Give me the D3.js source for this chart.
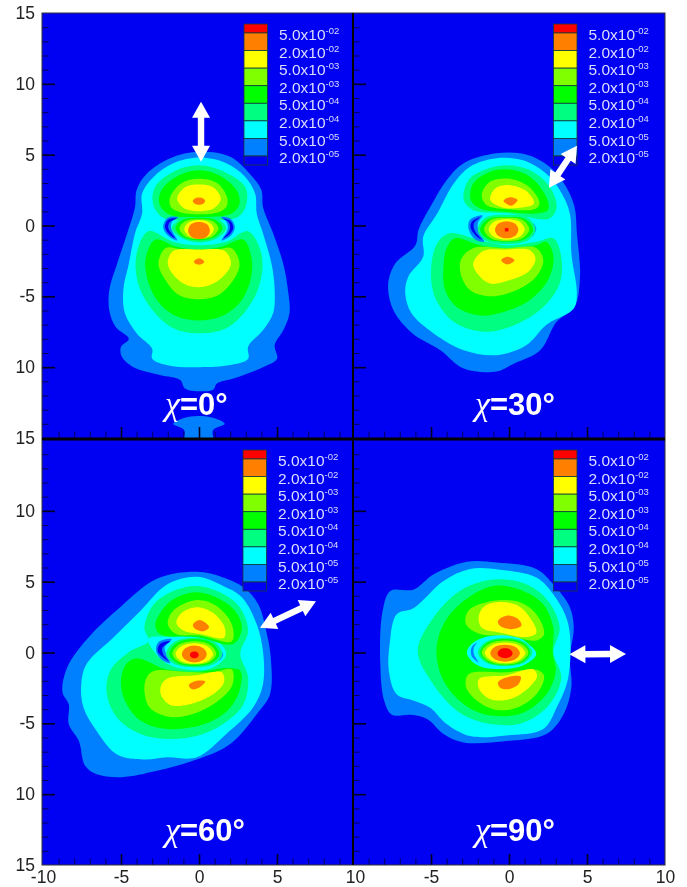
<!DOCTYPE html>
<html>
<head>
<meta charset="utf-8">
<script src="https://cdn.jsdelivr.net/npm/d3@7"></script>
<style>
    html, body { margin: 0; padding: 0; background: #fff; }
    svg { display: block; }
</style>
</head>
<body>
<div id="chart"></div>
<script>
// contour levels, low to high; level 0 is the background blue
const levelColors = ['#0202f2', '#0080ff', '#00ffff', '#00ff80', '#00ff00', '#80ff00', '#ffff00', '#ff8000', '#ff0000'];
const legendMantissas = ['5.0x10', '2.0x10', '5.0x10', '2.0x10', '5.0x10', '2.0x10', '5.0x10', '2.0x10'];
const legendExponents = ['-02', '-02', '-03', '-03', '-04', '-04', '-05', '-05'];

const yTickValues = [15, 10, 5, 0, -5, -10, -15];
const yTickLabels = ['15', '10', '5', '0', '-5', '10', '15'];
const xTickValues = [-10, -5, 0, 5, 10];
const xTickLabels = ['-10', '-5', '0', '5', '10'];
const minorTicks = d3.range(-14, 15);
const minorTicksX = d3.range(-9, 10);

const chiAngles = ['0', '30', '60', '90'];

// [start, tip] of the double arrow, in plot units
const arrow0 = [[0.13, 4.5], [0.13, 8.74]];
const arrow30 = [[2.56, 2.67], [4.36, 5.63]];
const arrow60 = [[3.91, 1.75], [7.5, 3.61]];
const arrow90 = [[3.87, -0.13], [7.5, -0.1]];

// each entry: [level, outline]; painted in this order
const chi0 = [
    [1, [[0.05,5.2],[2,4.85],[3.25,3.65],[4,2.5],[4.1,1.3],[4.75,-0.55],[5.4,-2.7],[5.7,-4.55],[5.8,-6.2],[5.4,-7.4],[4.85,-8.45],[5,-9.4],[4.1,-10],[2.2,-10.8],[1.15,-11.15],[0.9,-11.6],[0.05,-11.7],[-0.9,-11.5],[-1.2,-10.9],[-2.5,-10.55],[-4.2,-10],[-4.95,-9.25],[-5,-8.55],[-4.5,-8],[-5.35,-7.15],[-5.75,-6],[-5.75,-4.55],[-5.25,-2.7],[-4.6,-0.55],[-4.1,1.3],[-4,2.5],[-3.35,3.65],[-1.85,4.75]]],
    [1, [[-0.05,-13.45],[1,-13.6],[1.65,-14],[0.9,-14.45],[0.9,-15.4],[-0.95,-15.4],[-0.95,-14.45],[-1.65,-14],[-1,-13.6]]],
    [2, [[0.05,4.8],[1.75,4.4],[2.95,3.45],[3.6,2.25],[3.7,0.85],[4.1,-0.55],[4.65,-2.7],[4.85,-4.55],[4.75,-6.2],[4.1,-7.4],[3.15,-8.55],[3.15,-9.4],[2,-9.85],[0.05,-10],[-1.85,-9.9],[-3,-9.4],[-3,-8.7],[-4,-7.6],[-4.75,-6.2],[-4.85,-4.55],[-4.5,-2.7],[-4.1,-0.55],[-3.65,0.85],[-3.65,2.25],[-2.9,3.45],[-1.65,4.4]]],
    [3, [[0,4.25],[1.6,3.8],[2.95,2.75],[3.05,1.55],[2.5,0.6],[0.05,0.4],[-2.3,0.55],[-2.95,1.55],[-2.8,2.75],[-1.55,3.85]]],
    [3, [[-3.25,-0.4],[-1.65,-1.15],[0,-1.4],[1.75,-1.15],[3.15,-0.4],[4,-2],[3.9,-4.1],[3.05,-5.95],[1.75,-7.25],[0.05,-7.6],[-1.65,-7.25],[-3,-5.95],[-3.9,-4.1],[-4,-2]]],
    [1, [[-1.3,0.6],[-2,0.55],[-2.3,-0.08],[-2,-0.7],[-1.4,-1.05],[-1.7,-0.43],[-1.8,-0.08],[-1.7,0.3]]],
    [0, [[-1.43,0.5],[-1.97,0.43],[-2.18,-0.08],[-1.97,-0.55],[-1.54,-0.9],[-1.85,-0.43],[-1.98,-0.08],[-1.85,0.27]]],
    [1, [[1.4,0.6],[2,0.5],[2.3,-0.13],[2.05,-0.7],[1.45,-1.05],[1.75,-0.5],[1.85,-0.13],[1.75,0.27]]],
    [0, [[1.52,0.5],[1.99,0.34],[2.2,-0.13],[2.03,-0.55],[1.56,-0.9],[1.88,-0.5],[2,-0.13],[1.88,0.27]]],
    [3, [[0,0.65],[1.15,0.5],[1.75,-0.2],[1.15,-0.9],[0,-1.2],[-1.1,-0.9],[-1.75,-0.2],[-1.1,0.5]]],
    [4, [[0,0.55],[1.05,0.4],[1.5,-0.2],[1.05,-0.8],[0,-1.05],[-1.05,-0.8],[-1.5,-0.2],[-1.05,0.4]]],
    [5, [[0,0.45],[0.9,0.3],[1.25,-0.22],[0.9,-0.75],[0,-0.95],[-0.9,-0.75],[-1.25,-0.22],[-0.9,0.3]]],
    [6, [[0,0.38],[0.68,0.2],[0.95,-0.25],[0.68,-0.72],[0,-0.9],[-0.68,-0.72],[-0.95,-0.25],[-0.68,0.2]]],
    [7, [[0,0.25],[0.5,0.1],[0.7,-0.35],[0.5,-0.8],[0,-0.95],[-0.5,-0.8],[-0.7,-0.35],[-0.5,0.1]]],
    [4, [[0,3.9],[1.45,3.45],[2.4,2.5],[2.6,1.55],[2.1,0.85],[0.05,0.6],[-1.95,0.8],[-2.55,1.55],[-2.4,2.5],[-1.45,3.45]]],
    [5, [[0,3.3],[1.15,3],[1.8,2],[1.75,1.3],[1.15,0.9],[0.05,0.8],[-1.1,0.9],[-1.8,1.3],[-1.85,2],[-1.1,3]]],
    [6, [[0,2.9],[0.9,2.7],[1.4,1.9],[1,1.25],[0,1],[-1,1.25],[-1.4,1.9],[-0.9,2.7]]],
    [7, [[-0.4,1.75],[-0.2,1.95],[0.2,1.95],[0.4,1.75],[0.2,1.5],[-0.2,1.5]]],
    [4, [[-2.8,-1],[-1.45,-1.5],[0,-1.7],[1.45,-1.5],[2.85,-1],[3.35,-2.2],[3.35,-3.6],[2.75,-5.25],[1.55,-6.35],[0,-6.7],[-1.55,-6.35],[-2.7,-5.25],[-3.35,-3.6],[-3.4,-2.2]]],
    [5, [[-2.15,-1.6],[-1.1,-1.7],[0,-1.75],[1.15,-1.7],[2.1,-1.6],[2.6,-2.7],[2.2,-3.85],[1.25,-4.9],[0,-5.2],[-1.3,-4.9],[-2.15,-3.85],[-2.6,-2.7]]],
    [6, [[-1.65,-1.8],[0,-1.7],[1.65,-1.8],[2.05,-2.7],[1.55,-3.6],[0.7,-4.2],[0,-4.35],[-0.8,-4.2],[-1.55,-3.6],[-2,-2.7]]],
    [7, [[-0.33,-2.55],[-0.15,-2.36],[0.15,-2.36],[0.33,-2.55],[0.15,-2.74],[-0.15,-2.74]]]
];

const chi30 = [
    [1, [[-0.8,5.1],[1.15,5],[2.6,4.15],[3.65,2.75],[4.2,1.3],[4.35,-0.55],[4.55,-3.6],[4.2,-5.75],[3.05,-6.8],[2,-8.8],[0.3,-9.75],[-0.8,-10.3],[-2.9,-10.1],[-4.4,-8.8],[-6.2,-7.6],[-7.4,-6],[-7.75,-4.2],[-7.3,-2.7],[-6,-1.4],[-5.8,-0.3],[-5.05,1.3],[-4,3.2],[-2.9,4.4]]],
    [2, [[-0.8,4.75],[0.9,4.6],[2.4,3.65],[3.25,2.5],[3.9,0.85],[4,-2],[4.35,-4.8],[4.15,-5.85],[2.4,-7],[1.1,-8.45],[-0.8,-9.15],[-2.9,-8.8],[-4.85,-7.6],[-6.25,-6.2],[-6.65,-4.8],[-6.45,-3.6],[-5.5,-2.2],[-5.5,-0.8],[-4.6,0.85],[-3.55,2.95],[-2.5,4.15]]],
    [3, [[-0.15,4.25],[1.35,3.9],[2.6,2.75],[3.05,1.3],[2.6,0.5],[0.05,0.85],[-2.3,1.1],[-2.9,1.8],[-2.6,3.2],[-1.65,3.9]]],
    [3, [[-3.8,-0.55],[-1.85,-1.05],[-0.15,-1.4],[1.75,-1.15],[2.85,-0.9],[3.35,-2.2],[3.25,-4.1],[2.2,-5.75],[0.3,-7.05],[-1.65,-7.5],[-3.55,-6.8],[-4.75,-5.05],[-5,-3.15],[-4.6,-1.25]]],
    [1, [[-1.7,0.7],[-2.5,0.4],[-2.6,-0.2],[-2.2,-0.95],[-1.6,-1.15],[-1.95,-0.35],[-2,0.15]]],
    [0, [[-1.85,0.6],[-2.4,0.25],[-2.45,-0.2],[-2.05,-0.8],[-1.75,-1],[-2.2,-0.35],[-2.25,0.15]]],
    [1, [[1.45,0.25],[1.75,-0.2],[1.5,-0.8],[1.6,-0.2]]],
    [3, [[-0.15,0.75],[1.2,0.55],[1.7,-0.28],[1.2,-1.05],[-0.15,-1.3],[-1.5,-1.05],[-2,-0.28],[-1.5,0.55]]],
    [4, [[-0.15,0.6],[1.05,0.45],[1.55,-0.28],[1.05,-0.95],[-0.15,-1.15],[-1.35,-0.95],[-1.85,-0.28],[-1.35,0.45]]],
    [5, [[-0.15,0.55],[0.85,0.4],[1.3,-0.28],[0.85,-0.9],[-0.15,-1.1],[-1.15,-0.9],[-1.6,-0.28],[-1.15,0.4]]],
    [6, [[-0.15,0.45],[0.65,0.28],[1,-0.28],[0.65,-0.82],[-0.15,-1],[-0.95,-0.82],[-1.3,-0.28],[-0.95,0.28]]],
    [7, [[-0.15,0.3],[0.4,0.12],[0.6,-0.3],[0.4,-0.72],[-0.15,-0.9],[-0.7,-0.72],[-0.9,-0.3],[-0.7,0.12]]],
    [8, [[-0.25,-0.2],[-0.05,-0.2],[-0.05,-0.4],[-0.25,-0.4]]],
    [4, [[0.05,3.95],[1.35,3.45],[2.4,2],[2.5,1.1],[1.75,0.85],[-0.15,0.95],[-1.85,1.2],[-2.45,1.8],[-2.3,2.95],[-1.2,3.8]]],
    [5, [[0.05,3.3],[1.25,2.75],[1.95,1.65],[1.75,1.2],[-0.15,1.15],[-1.45,1.45],[-1.75,2.15],[-1.2,3.1]]],
    [6, [[0.05,2.85],[1.15,2.4],[1.6,1.55],[0.7,1.25],[-0.35,1.25],[-1.2,1.8],[-0.9,2.6]]],
    [7, [[-0.35,1.75],[0.05,2],[0.55,1.8],[0.15,1.4]]],
    [4, [[-3.45,-0.9],[-1.85,-1.4],[-0.15,-1.6],[1.75,-1.4],[2.4,-1.15],[2.85,-2.2],[2.5,-3.85],[1.35,-5.25],[-0.35,-6.1],[-1.85,-6.35],[-3.35,-5.75],[-4.1,-4.55],[-4.2,-2.9],[-4,-1.6]]],
    [5, [[-2.3,-1.6],[-0.15,-1.6],[1.75,-1.6],[2.2,-2.45],[1.75,-3.6],[0.5,-4.55],[-1.2,-5],[-2.5,-4.55],[-3.1,-3.4],[-3.05,-2.35]]],
    [6, [[-1.65,-1.8],[-0.15,-1.7],[1.35,-1.75],[1.7,-2.35],[1.25,-3.25],[0.05,-3.85],[-1.2,-4.1],[-1.95,-3.5],[-2.3,-2.7]]],
    [7, [[-0.5,-2.45],[-0.1,-2.2],[0.35,-2.45],[-0.1,-2.75]]]
];

const chi60 = [
    [1, [[-0.15,5.7],[1.55,5.3],[2.85,4.6],[3.8,3.4],[4.35,1.3],[4.6,-0.35],[4.55,-2.95],[3.7,-4.35],[2,-6.45],[-0.15,-7.55],[-2.7,-8.35],[-4.95,-8.8],[-6.55,-8.6],[-7.3,-8],[-7.7,-6.25],[-8.35,-5.05],[-8.35,-3.65],[-8.75,-2.8],[-8.45,-1.05],[-7.1,1.05],[-5.05,3.2],[-2.7,5.2]]],
    [2, [[-0.15,5.35],[1.55,4.7],[2.75,3.9],[3.7,2],[4.1,0.1],[4.1,-2.25],[3.45,-3.9],[1.75,-5.75],[-0.15,-7.4],[-2.05,-7.4],[-3.55,-7.55],[-5.25,-7.2],[-6.55,-5.55],[-7.4,-3.9],[-7.55,-2.25],[-7.2,-0.8],[-5.5,1.05],[-3.75,2.95],[-2.05,4.8]]],
    [3, [[-0.15,4.7],[1.35,4.25],[2.6,3.2],[3.15,1.55],[2.65,-0.1],[3.15,-1.75],[2.85,-3.65],[1.55,-5.05],[-0.15,-5.9],[-2.05,-6.1],[-3.75,-5.75],[-5.25,-4.6],[-5.9,-2.95],[-5.7,-1.3],[-4.4,0.1],[-3.25,0.8],[-3.5,1.75],[-2.9,3.4],[-1.65,4.35]]],
    [2, [[-3.25,0.95],[-1.65,1.1],[0.9,1],[1.75,-0.1],[0.9,-1.05],[-0.8,-1.2],[-2.3,-0.6]]],
    [1, [[-1.75,0.95],[-2.6,0.75],[-2.75,0.1],[-2.4,-0.5],[-1.85,-0.75],[-2.1,-0.1],[-2.2,0.35]]],
    [0, [[-1.85,0.8],[-2.5,0.6],[-2.65,0.1],[-2.3,-0.35],[-1.95,-0.6],[-2.3,-0.1],[-2.35,0.35]]],
    [1, [[1.25,0.25],[1.55,-0.1],[1.3,-0.6],[1.4,-0.1]]],
    [3, [[-0.3,1.05],[1,0.75],[1.5,-0.1],[1,-0.8],[-0.3,-1.05],[-1.6,-0.8],[-2.1,-0.1],[-1.6,0.75]]],
    [4, [[-0.3,0.95],[0.85,0.65],[1.3,-0.1],[0.85,-0.7],[-0.3,-0.95],[-1.45,-0.7],[-1.9,-0.1],[-1.45,0.65]]],
    [5, [[-0.3,0.8],[0.7,0.55],[1.1,-0.1],[0.7,-0.65],[-0.3,-0.85],[-1.3,-0.65],[-1.7,-0.1],[-1.3,0.55]]],
    [6, [[-0.3,0.65],[0.55,0.42],[0.9,-0.1],[0.55,-0.6],[-0.3,-0.8],[-1.15,-0.6],[-1.5,-0.1],[-1.15,0.42]]],
    [7, [[-0.3,0.5],[0.28,0.3],[0.5,-0.12],[0.28,-0.52],[-0.3,-0.7],[-0.88,-0.52],[-1.1,-0.12],[-0.88,0.3]]],
    [8, [[-0.3,0.07],[-0.1,0],[-0.02,-0.17],[-0.1,-0.33],[-0.3,-0.4],[-0.5,-0.33],[-0.58,-0.17],[-0.5,0]]],
    [4, [[-0.15,4.25],[1.1,3.9],[2.3,2.95],[2.75,1.75],[2.2,0.6],[0.05,1.05],[-2.5,1.3],[-2.8,2],[-2.05,3.4],[-1.2,4]]],
    [5, [[-0.15,3.7],[1.1,3.3],[2.1,2],[2.1,0.8],[0.05,1.2],[-1.45,1.3],[-2,2],[-1.65,2.95]]],
    [6, [[-0.15,3.2],[0.9,2.8],[1.65,1.75],[1.6,1.05],[0.05,1.3],[-1,1.55],[-1.45,2.1],[-1.1,2.8]]],
    [7, [[-0.4,1.95],[0.05,2.3],[0.65,1.8],[0.3,1.5],[-0.15,1.6]]],
    [4, [[-4,-0.4],[-2.05,-1.2],[0.05,-1.35],[1.75,-1.1],[2.65,-1.3],[2.65,-2.45],[2,-3.9],[0.5,-5],[-2.05,-5.4],[-3.75,-4.8],[-4.75,-3.4],[-5,-2],[-4.65,-0.8]]],
    [5, [[-2.9,-1.3],[-1,-1.35],[0.9,-1.4],[2.1,-1.2],[2.15,-2.25],[1.35,-3.3],[-0.15,-4.25],[-1.85,-4.55],[-3.15,-3.9],[-3.5,-2.7],[-3.35,-1.75]]],
    [6, [[-1.95,-1.8],[-0.15,-1.6],[1.45,-1.4],[1.6,-2.1],[0.9,-2.95],[-0.6,-3.65],[-1.85,-3.7],[-2.45,-2.95],[-2.4,-2.25]]],
    [7, [[-0.65,-2.3],[-0.15,-2],[0.4,-2.05],[0.05,-2.45],[-0.45,-2.6]]]
];

const chi90 = [
    [1, [[-2.7,6.4],[-0.8,6.35],[1.75,5.9],[2.85,4.8],[3.9,3.2],[4.15,1.75],[3.9,-0.35],[4,-2.45],[3.5,-4.35],[2.4,-5.75],[-0.15,-6.25],[-2.9,-6.35],[-4.2,-5.75],[-5.25,-4.7],[-6.3,-4.4],[-7.5,-4.4],[-8,-3.4],[-8.25,-0.8],[-8.1,2.95],[-7.6,4.35],[-6.1,4.45],[-4.85,5.5]]],
    [2, [[-2.5,5.9],[-0.6,5.85],[1.75,5.3],[2.85,4.1],[3.8,2],[3.8,-1.75],[3.05,-3.9],[2.2,-5.4],[-0.15,-5.85],[-2.5,-5.9],[-4,-5.05],[-5.05,-3.9],[-6.1,-3.4],[-7.2,-2.95],[-7.7,-1.3],[-7.65,0.6],[-7.2,2.7],[-6.1,3.15],[-4.2,5.05]]],
    [3, [[-1,5.15],[1.15,4.8],[2.5,3.65],[3.25,1.75],[2.85,0],[3.35,-1.75],[2.6,-3.65],[0.9,-4.95],[-1.2,-5.05],[-3.15,-4.25],[-4.85,-2.25],[-5.85,0.1],[-4.85,2.45],[-3.15,4.35]]],
    [4, [[-1,4.7],[0.9,4.35],[2.2,3.4],[2.85,1.75],[2.85,1.05],[2.8,0],[3,-1.3],[2.4,-2.95],[0.9,-4.25],[-1.2,-4.45],[-2.9,-3.65],[-4.2,-2],[-4.65,0.1],[-4.2,2],[-2.9,3.65]]],
    [2, [[-1.65,1.05],[0.3,1.2],[1.25,0.6],[1.75,-0.1],[1.25,-0.7],[0.3,-1.1],[-1.65,-1.05],[-2.4,-0.6],[-2.7,0],[-2.4,0.6]]],
    [1, [[-2.05,0.7],[-2.4,0.35],[-2.4,-0.25],[-1.95,-0.7],[-2.25,-0.1],[-2.25,0.35]]],
    [3, [[-0.25,1.05],[1,0.75],[1.5,0],[1,-0.7],[-0.25,-0.95],[-1.5,-0.7],[-2,0],[-1.5,0.75]]],
    [4, [[-0.25,0.95],[0.9,0.68],[1.35,0],[0.9,-0.65],[-0.25,-0.9],[-1.4,-0.65],[-1.85,0],[-1.4,0.68]]],
    [5, [[-0.25,0.85],[0.8,0.6],[1.25,0],[0.8,-0.6],[-0.25,-0.85],[-1.3,-0.6],[-1.75,0],[-1.3,0.6]]],
    [6, [[-0.25,0.7],[0.65,0.5],[1.05,-0.02],[0.65,-0.55],[-0.25,-0.75],[-1.15,-0.55],[-1.55,-0.02],[-1.15,0.5]]],
    [7, [[-0.25,0.55],[0.42,0.38],[0.7,-0.05],[0.42,-0.48],[-0.25,-0.65],[-0.92,-0.48],[-1.2,-0.05],[-0.92,0.38]]],
    [8, [[-0.25,0.3],[0.09,0.2],[0.23,-0.05],[0.09,-0.3],[-0.25,-0.4],[-0.59,-0.3],[-0.73,-0.05],[-0.59,0.2]]],
    [5, [[-1,3.65],[0.7,3.55],[1.75,2.7],[2.25,1.3],[1.75,0.85],[-0.15,1.2],[-1.85,1.3],[-2.75,2],[-2.6,2.95]]],
    [6, [[-0.8,3.55],[0.5,3.35],[1.35,2.45],[1.75,1.4],[1.15,1.1],[-0.55,1.4],[-1.75,1.75],[-1.95,2.45],[-1.65,3.2]]],
    [7, [[-0.7,2.25],[-0.15,2.6],[0.6,2.35],[0.8,1.9],[0.15,1.65],[-0.6,1.9]]],
    [5, [[-2.6,-1.55],[-0.15,-1.4],[1.75,-1.2],[2.25,-1.65],[1.75,-2.95],[0.5,-3.9],[-0.8,-4.05],[-2.05,-3.4],[-2.75,-2.45]]],
    [6, [[-1.85,-1.8],[-0.15,-1.6],[1.55,-1.2],[1.8,-1.65],[1.15,-2.6],[0.05,-3.3],[-1.2,-3.3],[-1.85,-2.7],[-2,-2.1]]],
    [7, [[-0.7,-2.1],[0.05,-1.7],[0.75,-1.7],[0.6,-2.25],[-0.15,-2.6],[-0.6,-2.45]]]
];

const width = 687;
const height = 887;

const panels = [
    { frameX: [42, 353], xRange: [43, 355], yRange: [438, 13], legendX: 244, legendTop: 0, contours: chi0, arrow: arrow0, chi: chiAngles[0], leftLabels: true },
    { frameX: [353, 665], xRange: [353, 665], yRange: [438, 13], legendX: 553.5, legendTop: 0, contours: chi30, arrow: arrow30, chi: chiAngles[1] },
    { frameX: [42, 353], xRange: [43, 355], yRange: [865, 440], legendX: 243, legendTop: 426, contours: chi60, arrow: arrow60, chi: chiAngles[2], leftLabels: true, bottomLabels: true },
    { frameX: [353, 665], xRange: [353, 665], yRange: [865, 440], legendX: 553.5, legendTop: 426, contours: chi90, arrow: arrow90, chi: chiAngles[3], bottomLabels: true, skipFirstX: true }
];

const svg = d3.select('#chart').append('svg')
    .attr('width', width)
    .attr('height', height)
    .style('background', '#fff');

// the source is a soft, rescaled bitmap
svg.append('defs').append('filter')
    .attr('id', 'soft')
    .append('feGaussianBlur')
    .attr('stdDeviation', 0.45);

const root = svg.append('g').attr('filter', 'url(#soft)');

function drawPanel(panel, index) {
    const x = d3.scaleLinear().domain([-10, 10]).range(panel.xRange);
    const y = d3.scaleLinear().domain([-15, 15]).range(panel.yRange);
    const left = panel.frameX[0];
    const frameW = panel.frameX[1] - left;
    const top = panel.yRange[1];
    const bottom = panel.yRange[0];

    svg.select('defs').append('clipPath')
        .attr('id', `clip${index}`)
        .append('rect')
        .attr('x', left)
        .attr('y', top)
        .attr('width', frameW)
        .attr('height', bottom - top);

    const g = root.append('g');
    const plot = g.append('g').attr('clip-path', `url(#clip${index})`);

    plot.append('rect')
        .attr('x', left)
        .attr('y', top)
        .attr('width', frameW)
        .attr('height', bottom - top)
        .attr('fill', levelColors[0]);

    const outline = d3.line()
        .x((d) => x(d[0]))
        .y((d) => y(d[1]))
        .curve(d3.curveCatmullRomClosed.alpha(0.5));

    plot.selectAll('path.contour').data(panel.contours).enter().append('path')
        .attr('class', 'contour')
        .attr('d', (d) => outline(d[1]))
        .attr('fill', (d) => levelColors[d[0]]);

    drawLegend(g, panel);
    drawArrow(g, panel.arrow, x, y);

    // chi label, same place in every panel
    const chiY = index < 2 ? -13.4 : -13.3;
    const label = g.append('text')
        .attr('x', x(-2.18))
        .attr('y', y(chiY))
        .attr('fill', '#fff')
        .attr('font-family', 'Liberation Sans, Arial, sans-serif')
        .attr('font-weight', 'bold')
        .attr('font-size', 31);
    label.append('tspan')
        .attr('font-family', 'Liberation Serif, serif')
        .attr('font-style', 'italic')
        .attr('font-weight', 'normal')
        .attr('font-size', 34)
        .text('χ');
    label.append('tspan').text(`=${panel.chi}°`);

    drawAxes(g, panel, x, y, left, bottom);
}

function drawLegend(g, panel) {
    const boundary = d3.scaleLinear().domain([0, 7]).range([33, 156]);
    const cellY = (i) => (i === 0 ? 24 : boundary(i - 1)) + panel.legendTop;
    const cellH = (i) => (i === 0 || i === 8 ? 9 : boundary(i - 1 + 1) - boundary(i - 1));
    const colors = levelColors.slice().reverse();

    g.selectAll('rect.cell').data(colors).enter().append('rect')
        .attr('class', 'cell')
        .attr('x', panel.legendX)
        .attr('y', (d, i) => cellY(i))
        .attr('width', 23.5)
        .attr('height', (d, i) => cellH(i))
        .attr('fill', (d) => d)
        .attr('stroke', '#123c3c')
        .attr('stroke-width', 0.8);

    const labels = g.selectAll('text.legend').data(legendMantissas).enter().append('text')
        .attr('class', 'legend')
        .attr('x', panel.legendX + 35)
        .attr('y', (d, i) => 40 + i * 17.6 + panel.legendTop)
        .attr('fill', '#dcdcff')
        .attr('font-family', 'Liberation Sans, Arial, sans-serif')
        .attr('font-size', 15.5);
    labels.append('tspan').text((d) => d);
    labels.append('tspan')
        .attr('dy', -6)
        .attr('font-size', 9.5)
        .text((d, i) => legendExponents[i]);
}

function drawArrow(g, arrow, x, y) {
    const x0 = x(arrow[0][0]);
    const y0 = y(arrow[0][1]);
    const x1 = x(arrow[1][0]);
    const y1 = y(arrow[1][1]);
    const len = Math.hypot(x1 - x0, y1 - y0);
    const angle = Math.atan2(y1 - y0, x1 - x0) * 180 / Math.PI;
    const headL = 16;
    const headW = 9;
    const shaftW = 3.2;
    const shape = [
        [0, 0], [headL, -headW], [headL, -shaftW], [len - headL, -shaftW], [len - headL, -headW],
        [len, 0], [len - headL, headW], [len - headL, shaftW], [headL, shaftW], [headL, headW]
    ];
    g.append('polygon')
        .attr('points', shape.join(' '))
        .attr('transform', `translate(${x0},${y0}) rotate(${angle})`)
        .attr('fill', '#fff');
}

function drawAxes(g, panel, x, y, left, bottom) {
    const tickFont = 'Liberation Sans, Arial, sans-serif';

    // minor ticks first, labels come with the major axis
    const yMinor = d3.axisLeft(y).tickValues(minorTicks).tickSize(-6.5).tickFormat('');
    const xMinor = d3.axisBottom(x).tickValues(minorTicksX).tickSize(-6.5).tickFormat('');
    const yMajor = d3.axisLeft(y)
        .tickValues(yTickValues)
        .tickSize(-13)
        .tickPadding(7)
        .tickFormat((d, i) => (panel.leftLabels && !(d === 15 && panel.yRange[1] > 13) ? yTickLabels[i] : ''));
    const xMajor = d3.axisBottom(x)
        .tickValues(xTickValues)
        .tickSize(-11)
        .tickPadding(5.5)
        .tickFormat((d, i) => (panel.bottomLabels && !(panel.skipFirstX && i === 0) ? xTickLabels[i] : ''));

    styleAxis(g.append('g').attr('transform', `translate(${left},0)`).call(yMinor), 0.9, '#00004a', tickFont);
    styleAxis(g.append('g').attr('transform', `translate(${left},0)`).call(yMajor), 1.6, '#000020', tickFont);
    styleAxis(g.append('g').attr('transform', `translate(0,${bottom})`).call(xMinor), 0.9, '#00004a', tickFont);
    styleAxis(g.append('g').attr('transform', `translate(0,${bottom})`).call(xMajor), 1.6, '#000020', tickFont);
}

function styleAxis(a, w, color, font) {
    a.select('.domain').remove();
    // the frame already closes the ends of each axis
    a.selectAll('.tick').filter((d) => Math.abs(d) === 10 && a.attr('transform').startsWith('translate(0') || Math.abs(d) === 15)
        .select('line').remove();
    a.selectAll('line').attr('stroke', color).attr('stroke-width', w);
    a.selectAll('text').attr('fill', '#222').attr('font-family', font).attr('font-size', 17.5);
}

panels.forEach(drawPanel);

// frame: thin outside, heavy dividers between the panels
const frameScaleX = [42, 353, 665];
const frameScaleY = [13, 439, 865];
root.append('rect')
    .attr('x', frameScaleX[0])
    .attr('y', frameScaleY[0])
    .attr('width', frameScaleX[2] - frameScaleX[0])
    .attr('height', frameScaleY[2] - frameScaleY[0])
    .attr('fill', 'none')
    .attr('stroke', '#333')
    .attr('stroke-width', 1);
root.append('line')
    .attr('x1', frameScaleX[1]).attr('x2', frameScaleX[1])
    .attr('y1', frameScaleY[0]).attr('y2', frameScaleY[2])
    .attr('stroke', '#000').attr('stroke-width', 2);
root.append('line')
    .attr('x1', frameScaleX[0]).attr('x2', frameScaleX[2])
    .attr('y1', frameScaleY[1]).attr('y2', frameScaleY[1])
    .attr('stroke', '#000').attr('stroke-width', 3);
</script>
</body>
</html>
